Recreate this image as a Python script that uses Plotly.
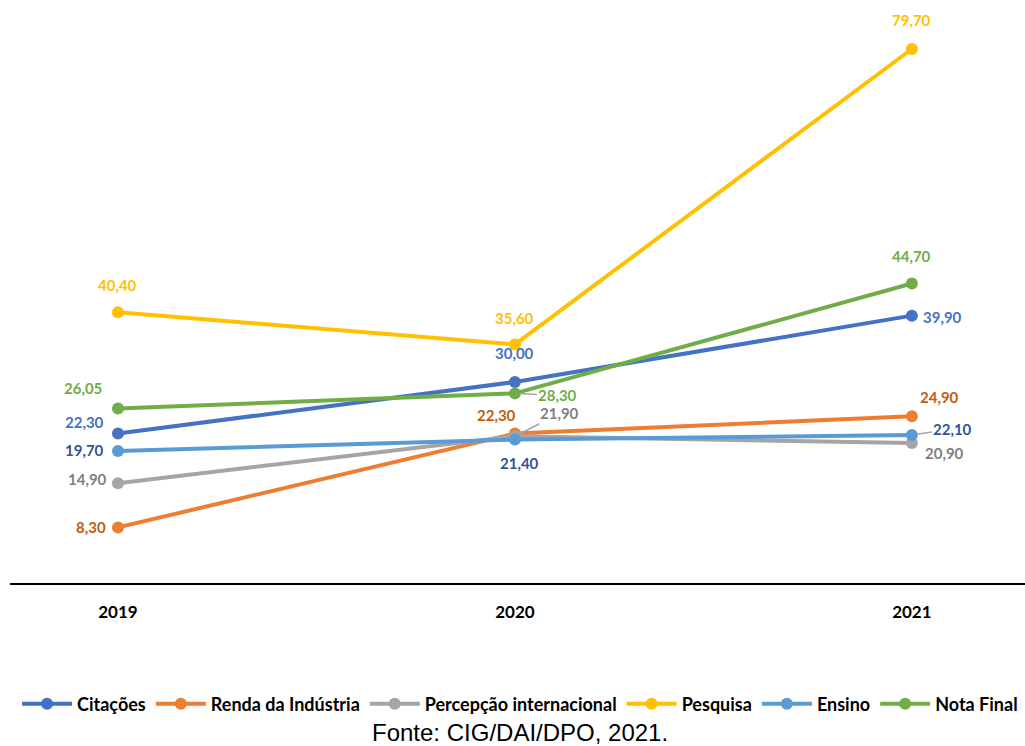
import plotly.graph_objects as go

years = ["2019", "2020", "2021"]
series_names = ["Citações", "Renda da Indústria", "Percepção internacional", "Pesquisa", "Ensino", "Nota Final"]
citacoes = [22.30, 30.00, 39.90]
renda = [8.30, 22.30, 24.90]
percepcao = [14.90, 21.90, 20.90]
pesquisa = [40.40, 35.60, 79.70]
ensino = [19.70, 21.40, 22.10]
nota_final = [26.05, 28.30, 44.70]
source_text = "Fonte: CIG/DAI/DPO, 2021."

values = [citacoes, renda, percepcao, pesquisa, ensino, nota_final]
line_colors = ["#4472C4", "#ED7D31", "#A5A5A5", "#FFC000", "#5B9BD5", "#70AD47"]
label_colors = ["#4472C4", "#C55A11", "#7F7F7F", "#FFC000", "#2F5597", "#70AD47"]

# label offsets in pixels: ('s', dx, dy_up) shift, or ('a', ax, ay_screen) leader line
offsets = [
    [("s", -33, 12), ("s", 0, 29), ("s", 31, -1)],     # Citações
    [("s", -27, 0), ("s", -18, 19), ("s", 28, 19)],    # Renda
    [("s", -30, 4), ("a", 45, -23), ("s", 33, -10)],   # Percepção
    [("s", 0, 27), ("s", 0, 26), ("s", 0, 29)],        # Pesquisa
    [("s", -33, 1), ("s", 5, -23), ("a", 41, -6)],     # Ensino
    [("s", -35, 20), ("a", 43, 2), ("s", 0, 27)],      # Nota Final
]

FONT = "Lato"
fig = go.Figure()
xi = list(range(len(years)))
for name, vals, lc in zip(series_names, values, line_colors):
    fig.add_trace(go.Scatter(
        x=xi, y=vals, name=name, mode="lines+markers",
        line=dict(color=lc, width=4),
        marker=dict(color=lc, size=12),
        cliponaxis=False,
    ))

annotations = []
for s, (vals, tc) in enumerate(zip(values, label_colors)):
    for i, v in enumerate(vals):
        mode, dx, dy = offsets[s][i]
        txt = f"{v:.2f}".replace(".", ",")
        base = dict(x=i, y=v, xref="x", yref="y", text=txt,
                    font=dict(family=FONT, size=15, color=tc, weight="bold"))
        if mode == "s":
            annotations.append(dict(**base, showarrow=False, xshift=dx, yshift=dy))
        else:
            annotations.append(dict(**base, showarrow=True, arrowhead=0, arrowwidth=1.5,
                                    arrowcolor="#A5A5A5", ax=dx, ay=dy, standoff=5))

annotations.append(dict(
    text=source_text, xref="paper", yref="paper", x=0.5025, y=(583 - 732) / 583,
    xanchor="center", yanchor="middle", showarrow=False,
    font=dict(family="Liberation Sans", size=24, color="#000000"),
))

fig.update_layout(
    width=1025, height=746,
    margin=dict(l=10, r=0, t=0, b=163),
    plot_bgcolor="white", paper_bgcolor="white",
    showlegend=True,
    legend=dict(orientation="h", x=0.5025, y=(583 - 704) / 583, xanchor="center", yanchor="middle",
                font=dict(family=FONT, size=18, color="#000000", weight="bold"),
                itemwidth=50, tracegroupgap=0, traceorder="normal"),
    annotations=annotations,
)
fig.update_xaxes(
    range=[-0.272, 2.285], tickvals=xi, ticktext=years,
    showgrid=False, zeroline=False, showline=True, linecolor="#000000", linewidth=2,
    ticks="outside", ticklen=0, ticklabelstandoff=13,
    tickfont=dict(family=FONT, size=17, color="#000000", weight="bold"),
)
fig.update_yaxes(range=[0, 87.01], showgrid=False, zeroline=False, showticklabels=False, showline=False)

fig.write_html("out.html")
